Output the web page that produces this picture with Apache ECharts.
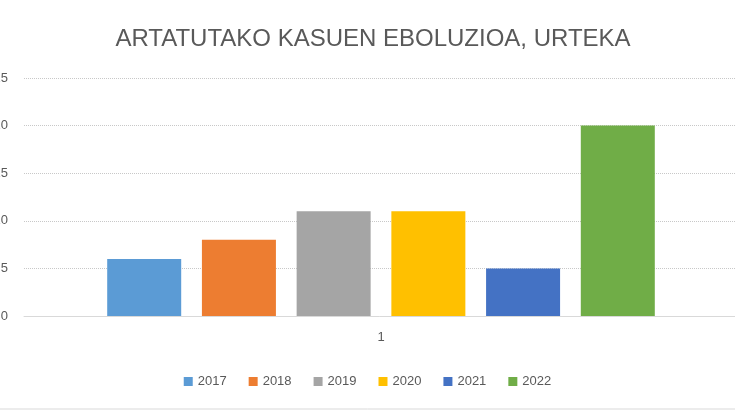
<!DOCTYPE html>
<html><head><meta charset="utf-8">
<script src="https://cdn.jsdelivr.net/npm/echarts@6/dist/echarts.min.js"></script>
<style>html,body{margin:0;padding:0;background:#fff}#c{width:735px;height:413px}</style>
</head><body><div id="c"></div>
<script>
const categories = ['1'];
const years = ['2017','2018','2019','2020','2021','2022'];
const values = [6, 8, 11, 11, 5, 20];
const colors = ['#5B9BD5','#ED7D31','#A5A5A5','#FFC000','#4472C4','#70AD47'];
const chart = echarts.init(document.getElementById('c'));
chart.setOption({
  animation:false,
  title:{text:'ARTATUTAKO KASUEN EBOLUZIOA, URTEKA',left:368,top:22,textAlign:'center',
    textStyle:{fontFamily:'Liberation Sans',fontSize:24,fontWeight:'normal',color:'#595959'}},
  legend:{bottom:20,left:'center',itemWidth:9,itemHeight:9,itemGap:22,icon:'rect',
    textStyle:{fontFamily:'Liberation Sans',fontSize:13,color:'#595959'}},
  grid:{left:24,right:-3,top:78,bottom:97,containLabel:false,outerBoundsMode:'none'},
  xAxis:{type:'category',data:categories,axisTick:{show:false},
    axisLine:{lineStyle:{color:'#d9d9d9'}},
    axisLabel:{margin:15,fontFamily:'Liberation Sans',fontSize:13,color:'#595959'}},
  yAxis:{type:'value',min:0,max:25,interval:5,
    splitLine:{lineStyle:{color:'#c8c8c8',type:'dotted'}},
    axisLabel:{margin:16,fontFamily:'Liberation Sans',fontSize:13,color:'#595959'}},
  graphic:[{type:'line',shape:{x1:0,y1:409,x2:735,y2:409},style:{stroke:'#d9d9d9',lineWidth:1}}],
  series: years.map((y,i)=>({name:y,type:'bar',data:[values[i]],barWidth:74,barGap:'28%',
    itemStyle:{color:colors[i]}}))
});
</script></body></html>
